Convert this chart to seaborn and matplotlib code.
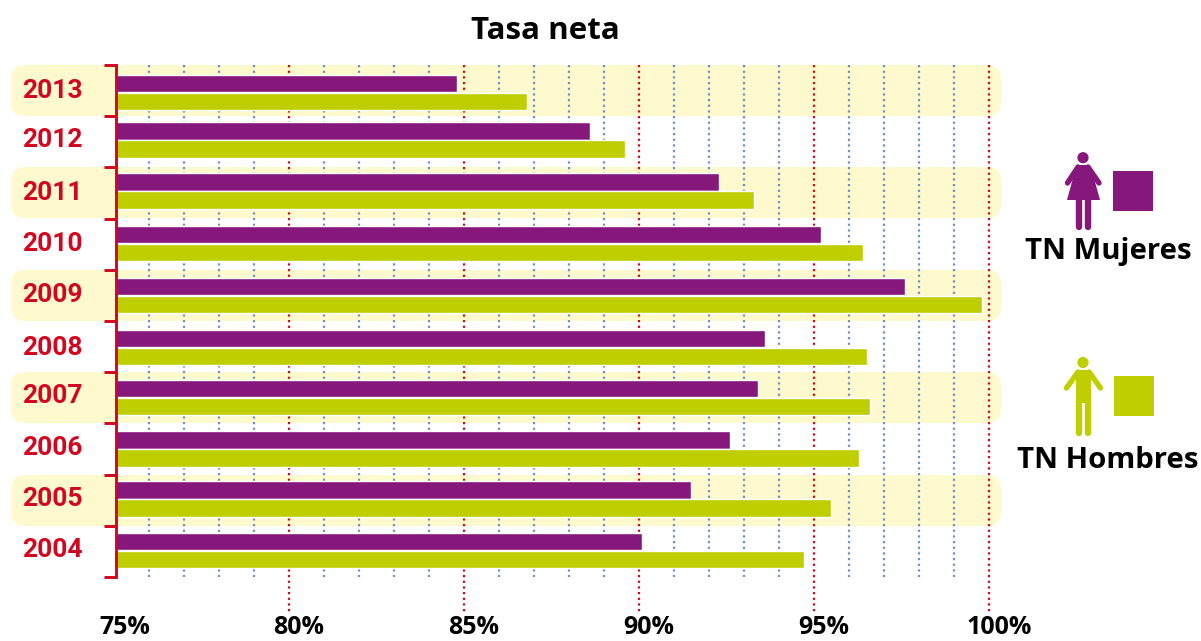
import pandas as pd
import seaborn as sns
import matplotlib.pyplot as plt
from matplotlib.patches import FancyBboxPatch, Rectangle, Circle, Polygon
from matplotlib.transforms import ScaledTranslation

#%% Data
years = ["2013", "2012", "2011", "2010", "2009", "2008", "2007", "2006", "2005", "2004"]
mujeres = [84.8, 88.6, 92.3, 95.2, 97.6, 93.6, 93.4, 92.6, 91.5, 90.1]
hombres = [86.8, 89.6, 93.3, 96.4, 99.8, 96.5, 96.6, 96.3, 95.5, 94.7]
tick_vals = [80, 85, 90, 95, 100]
tick_labels = ["80%", "85%", "90%", "95%", "100%"]
first_tick_label = "75%"
series = ["TN Mujeres", "TN Hombres"]

PURPLE = "#85187A"
GREEN = "#BFCE00"
RED = "#D2071F"
BLUE = "#6F90C6"
BAND = "#FFFACD"
FONT = "Open Sans"

df = pd.DataFrame({
    "year": years * 2,
    "tasa": mujeres + hombres,
    "grupo": [series[0]] * len(years) + [series[1]] * len(years),
})

#%% Figure
sns.set_style("white")
W, H = 1201, 641
fig = plt.figure(figsize=(W / 100, H / 100), dpi=100)

# overlay in pixel coords for bands and the legend pictograms
bg = fig.add_axes([0, 0, 1, 1], zorder=0)
bg.set_xlim(0, W)
bg.set_ylim(H, 0)
bg.axis("off")
for top in [65, 167, 270, 372, 475]:
    bg.add_patch(FancyBboxPatch((11 + 14, top + 14), 990 - 28, 51 - 28,
                                boxstyle="round,pad=14", fc=BAND, ec="none"))

# main axes: left 116px, right 1001px, top 65px, bottom 612px
left, right, top, bottom = 116, 1001, 65, 612
ax = fig.add_axes([left / W, 1 - bottom / H, (right - left) / W, (bottom - top) / H], zorder=1)
ax.patch.set_alpha(0)

sns.barplot(data=df, y="year", x="tasa", hue="grupo", order=years, hue_order=series,
            palette=[PURPLE, GREEN], width=0.7, gap=0.03, saturation=1,
            legend=False, ax=ax, zorder=2)

ax.set_ylim((bottom - top) / 51.2 - 0.5, -0.5)
ax.set_xlabel("")
ax.set_ylabel("")

# the bars are not quite evenly spaced in the original
bar_nudge = [1.9, -1.8, -2, -0.7, 0.1, 0.9, -0.3, 0, -1.2, -0.9]
for cont in ax.containers:
    for p, nudge in zip(cont, bar_nudge):
        p.set_y(p.get_y() + nudge / 51.2)

# dotted grid
minor_grid = [v for v in range(76, 100) if v % 5 != 0]
ax.vlines(minor_grid, -0.5, 9.5, colors=BLUE, lw=1.6, linestyles=(0, (1, 1.55)), zorder=1)
ax.vlines(tick_vals, -0.5, ax.get_ylim()[0], colors=RED, lw=1.6,
          linestyles=(0, (1, 1.55)), zorder=1)

# spines and ticks
sns.despine(ax=ax, top=True, right=True, bottom=True)
ax.spines["left"].set_color(RED)
ax.spines["left"].set_linewidth(2.1)
ax.spines["left"].set_bounds(-0.5, 9.5)
ax.spines["left"].set_zorder(3)

ax.set_yticks([i - 0.5 for i in range(len(years) + 1)], minor=True)
ax.tick_params(axis="y", which="minor", left=True, length=8.6, width=2.1, color=RED)
ax.tick_params(axis="y", which="major", left=False, pad=20.5)
ax.set_yticklabels(years, fontfamily="Roboto", fontweight="bold", fontsize=19, color=RED)

label_nudge = [-2.5, -4.5, -2, -3, -2.5, -1.5, -4, -4, -4, -3.5]
for lab, nudge in zip(ax.get_yticklabels(), label_nudge):
    lab.set_transform(lab.get_transform() + ScaledTranslation(0, -nudge / 100, fig.dpi_scale_trans))

ax.set_xticks(tick_vals, tick_labels, fontfamily=FONT, fontweight="bold", fontsize=18, color="black")
ax.tick_params(axis="x", length=0, pad=2.5)
for lab in ax.get_xticklabels():
    lab.set_transform(lab.get_transform() + ScaledTranslation(10 / 100, 0, fig.dpi_scale_trans))

# 75 sits just left of the spine, so its label cannot be a regular tick
ax.set_xlim(75 + (left - 114) / 35, 75 + (right - 114) / 35)
bg.text(125, 627, first_tick_label, ha="center", va="center", fontfamily=FONT,
        fontweight="bold", fontsize=18, color="black")

# title
bg.text(545.5, 31, "Tasa neta", ha="center", va="center", fontfamily=FONT,
        fontweight="bold", fontsize=22.5, color="black")

#%% Legend
def limb(x, y, color, lw=3.9):
    bg.plot(x, y, color=color, lw=lw, solid_capstyle="round", solid_joinstyle="round")

# woman
bg.add_patch(Circle((1083, 157.7), 5.6, fc=PURPLE, ec="none"))
bg.add_patch(Polygon([(1077, 165), (1089, 165), (1094, 178), (1100, 200), (1067, 200), (1073, 178)],
                     fc=PURPLE, ec="none"))
limb([1078, 1067.5], [167, 183], PURPLE)
limb([1088, 1099], [167, 183], PURPLE)
limb([1079, 1079], [198, 226.5], PURPLE, lw=4.6)
limb([1087.5, 1087.5], [198, 226.5], PURPLE, lw=4.6)
bg.add_patch(Rectangle((1113, 171), 40, 40, fc=PURPLE, ec="none"))
bg.text(1108.5, 252, series[0], ha="center", va="center", fontfamily=FONT,
        fontweight="bold", fontsize=21.2, color="black")

# man
bg.add_patch(Circle((1083, 362.5), 5.6, fc=GREEN, ec="none"))
bg.add_patch(Rectangle((1076, 370), 15, 33, fc=GREEN, ec="none"))
limb([1078, 1066.5], [372, 388], GREEN)
limb([1089, 1100.5], [372, 388], GREEN)
limb([1079, 1079], [400, 433], GREEN, lw=4.6)
limb([1088, 1088], [400, 433], GREEN, lw=4.6)
bg.add_patch(Rectangle((1114, 376), 40, 40, fc=GREEN, ec="none"))
bg.text(1108, 460, series[1], ha="center", va="center", fontfamily=FONT,
        fontweight="bold", fontsize=21.2, color="black")
bg.set_xlim(0, W)
bg.set_ylim(H, 0)

plt.savefig("out.png", dpi=100)
